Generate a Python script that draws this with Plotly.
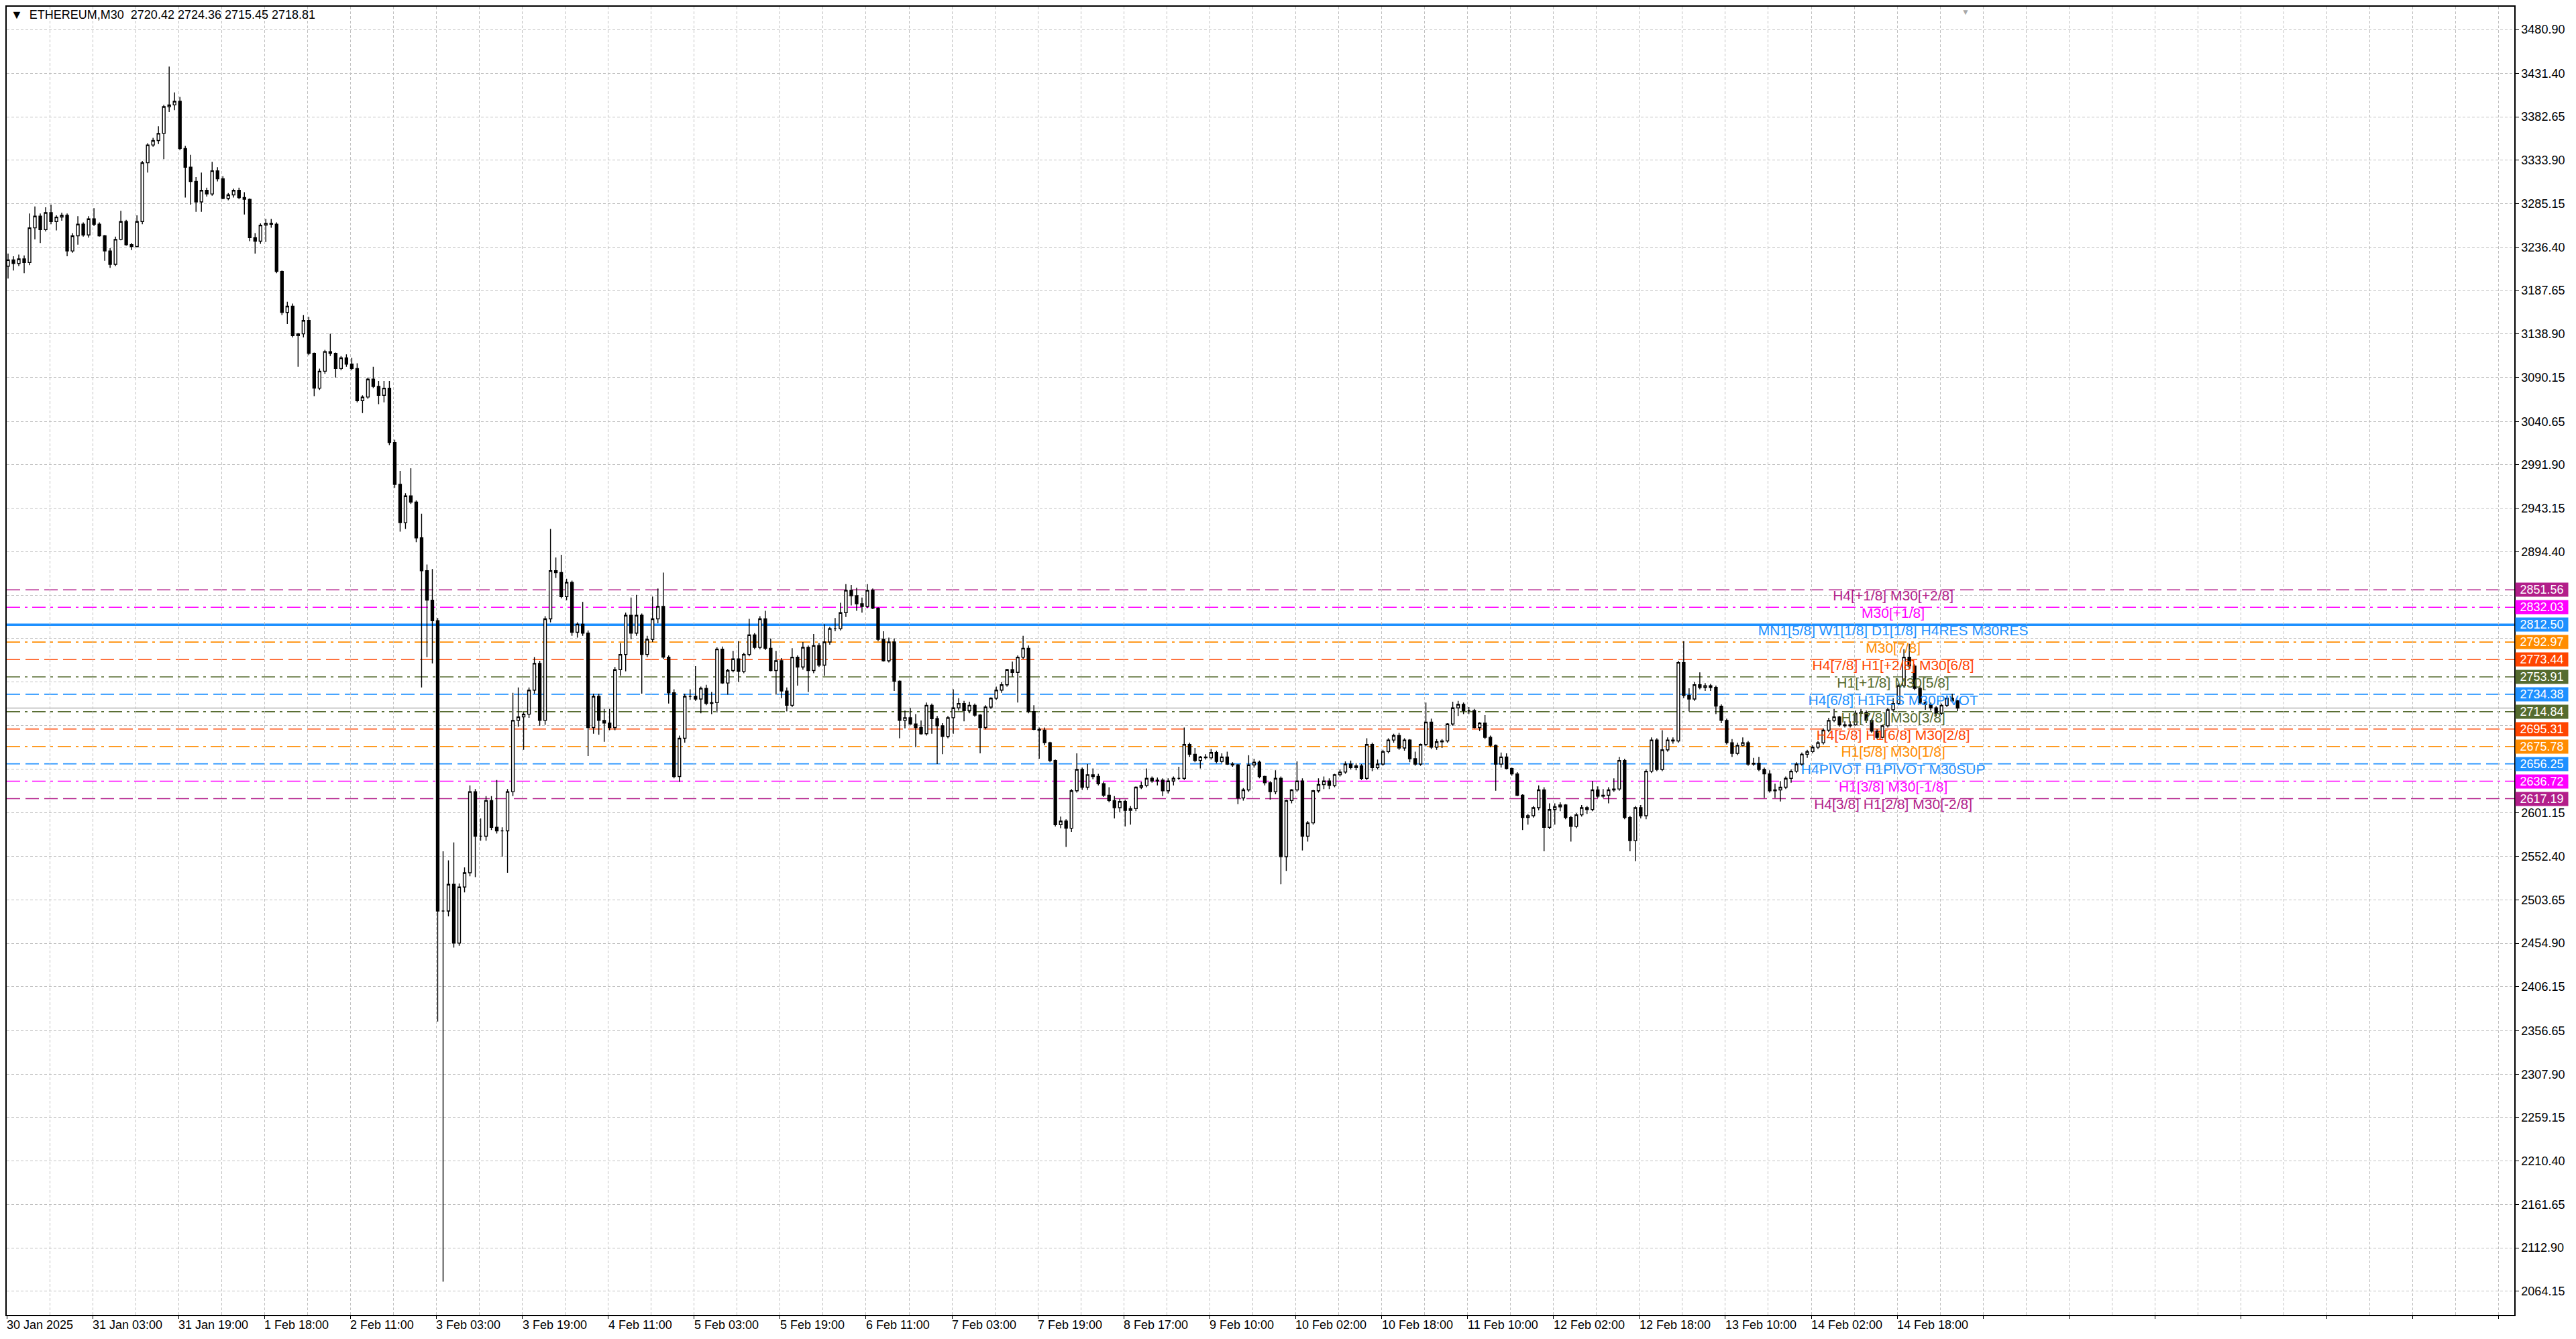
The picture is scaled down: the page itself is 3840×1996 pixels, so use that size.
import plotly.graph_objects as go

# ETHEREUM, M30 chart (drawn as 1-hour candles, two M30 bars per candle)
opens = [
    3215, 3222, 3218, 3223, 3219, 3258, 3271, 3256, 3275, 3265,
    3270, 3272, 3232, 3249, 3262, 3250, 3268, 3262, 3249, 3232,
    3217, 3245, 3265, 3239, 3237, 3265, 3331, 3351, 3356, 3364,
    3394, 3396, 3400, 3347, 3326, 3310, 3287, 3300, 3296, 3322,
    3313, 3291, 3295, 3300, 3292, 3290, 3247, 3243, 3261, 3263,
    3262, 3209, 3163, 3170, 3137, 3139, 3154, 3117, 3078, 3097,
    3119, 3117, 3100, 3112, 3105, 3100, 3064, 3068, 3088, 3080,
    3070, 3078, 3017, 2970, 2927, 2957, 2950, 2910, 2873, 2840,
    2817, 2491, 2491, 2521, 2455, 2518, 2534, 2625, 2575, 2575,
    2615, 2585, 2581, 2581, 2625, 2705, 2709, 2712, 2739, 2769,
    2705, 2819, 2873, 2871, 2844, 2860, 2804, 2813, 2803, 2697,
    2732, 2705, 2702, 2697, 2762, 2779, 2823, 2803, 2823, 2779,
    2796, 2819, 2833, 2776, 2736, 2642, 2685, 2732, 2732, 2729,
    2741, 2724, 2725, 2785, 2747, 2761, 2774, 2760, 2779, 2801,
    2787, 2819, 2786, 2761, 2772, 2738, 2722, 2776, 2765, 2787,
    2761, 2789, 2767, 2793, 2808, 2808, 2826, 2851, 2845, 2836,
    2833, 2851, 2831, 2796, 2772, 2793, 2749, 2705, 2708, 2701,
    2697, 2690, 2722, 2707, 2699, 2687, 2708, 2719, 2724, 2716,
    2722, 2711, 2697, 2720, 2730, 2739, 2745, 2762, 2759, 2776,
    2786, 2715, 2695, 2694, 2680, 2660, 2588, 2592, 2584, 2626,
    2650, 2630, 2644, 2642, 2634, 2621, 2615, 2607, 2614, 2604,
    2606, 2630, 2632, 2640, 2637, 2638, 2626, 2637, 2640, 2640,
    2678, 2667, 2660, 2664, 2663, 2669, 2659, 2664, 2656, 2655,
    2618, 2627, 2655, 2658, 2642, 2635, 2625, 2640, 2552, 2615,
    2627, 2637, 2575, 2590, 2626, 2633, 2637, 2632, 2644, 2647,
    2656, 2652, 2654, 2640, 2678, 2652, 2656, 2670, 2683, 2688,
    2674, 2683, 2662, 2656, 2678, 2703, 2675, 2681, 2682, 2701,
    2719, 2723, 2716, 2716, 2697, 2702, 2686, 2677, 2656, 2664,
    2651, 2645, 2621, 2596, 2598, 2607, 2627, 2585, 2605, 2608,
    2610, 2596, 2586, 2599, 2607, 2605, 2627, 2620, 2621, 2627,
    2628, 2660, 2596, 2570, 2607, 2598, 2648, 2683, 2650, 2672,
    2683, 2682, 2770, 2733, 2729, 2745, 2742, 2744, 2742, 2721,
    2705, 2680, 2668, 2677, 2680, 2656, 2657, 2650, 2645, 2626,
    2627, 2630, 2640, 2648, 2656, 2667, 2670, 2675, 2680, 2694,
    2705, 2709, 2700, 2699, 2700, 2713, 2714, 2705, 2693, 2686,
    2699, 2717, 2724, 2744, 2776, 2766, 2741, 2725, 2723, 2719,
    2713, 2722, 2730, 2727,
]
highs = [
    3229, 3226, 3228, 3227, 3274, 3282, 3274, 3281, 3284, 3272,
    3275, 3274, 3252, 3271, 3264, 3271, 3280, 3264, 3250, 3235,
    3248, 3277, 3267, 3241, 3272, 3333, 3353, 3359, 3372, 3396,
    3439, 3410, 3405, 3350, 3340, 3315, 3320, 3303, 3332, 3326,
    3316, 3297, 3302, 3303, 3298, 3291, 3252, 3263, 3268, 3268,
    3264, 3210, 3175, 3173, 3140, 3160, 3158, 3118, 3100, 3121,
    3139, 3118, 3114, 3116, 3112, 3106, 3070, 3090, 3102, 3086,
    3086, 3086, 3020, 2985, 2960, 2988, 2952, 2937, 2880, 2875,
    2820, 2558, 2548, 2568, 2522, 2540, 2632, 2628, 2595, 2620,
    2620, 2638, 2585, 2628, 2736, 2742, 2714, 2742, 2776, 2772,
    2822, 2920, 2888, 2891, 2864, 2862, 2815, 2838, 2806, 2735,
    2735, 2718, 2718, 2765, 2792, 2826, 2843, 2846, 2825, 2800,
    2844, 2853, 2871, 2778, 2740, 2688, 2735, 2740, 2766, 2743,
    2745, 2737, 2787, 2788, 2763, 2783, 2794, 2781, 2819, 2803,
    2822, 2828, 2797, 2783, 2775, 2742, 2786, 2778, 2793, 2789,
    2802, 2792, 2813, 2810, 2820, 2837, 2858, 2857, 2854, 2843,
    2858, 2853, 2832, 2805, 2798, 2797, 2750, 2716, 2719, 2712,
    2705, 2725, 2724, 2710, 2702, 2710, 2740, 2730, 2727, 2726,
    2724, 2712, 2722, 2731, 2743, 2748, 2763, 2771, 2778, 2800,
    2789, 2722, 2697, 2697, 2681, 2661, 2597, 2594, 2628, 2668,
    2652, 2656, 2651, 2645, 2636, 2630, 2620, 2617, 2616, 2609,
    2631, 2636, 2651, 2642, 2641, 2640, 2640, 2642, 2653, 2697,
    2680, 2674, 2665, 2667, 2673, 2671, 2668, 2670, 2658, 2656,
    2629, 2666, 2662, 2660, 2643, 2637, 2649, 2642, 2616, 2628,
    2659, 2640, 2592, 2627, 2640, 2642, 2640, 2645, 2650, 2659,
    2660, 2657, 2656, 2685, 2680, 2661, 2672, 2685, 2690, 2691,
    2685, 2684, 2670, 2679, 2725, 2707, 2684, 2684, 2702, 2726,
    2727, 2725, 2720, 2718, 2703, 2711, 2688, 2678, 2669, 2668,
    2652, 2647, 2622, 2600, 2609, 2632, 2630, 2612, 2612, 2613,
    2611, 2598, 2601, 2610, 2609, 2637, 2631, 2628, 2630, 2640,
    2664, 2662, 2598, 2609, 2610, 2650, 2686, 2685, 2694, 2686,
    2686, 2772, 2794, 2741, 2748, 2759, 2747, 2746, 2744, 2723,
    2707, 2684, 2680, 2686, 2682, 2663, 2664, 2652, 2649, 2634,
    2637, 2642, 2650, 2658, 2669, 2672, 2677, 2682, 2696, 2708,
    2718, 2710, 2704, 2704, 2716, 2718, 2716, 2707, 2695, 2700,
    2719, 2730, 2746, 2785, 2791, 2768, 2743, 2727, 2725, 2721,
    2724, 2733, 2735, 2728,
]
lows = [
    3201, 3210, 3215, 3207, 3216, 3245, 3241, 3254, 3262, 3255,
    3266, 3226, 3230, 3239, 3248, 3247, 3260, 3248, 3221, 3213,
    3215, 3244, 3238, 3233, 3236, 3262, 3320, 3349, 3352, 3335,
    3388, 3390, 3345, 3292, 3284, 3276, 3276, 3293, 3294, 3310,
    3290, 3289, 3292, 3290, 3273, 3243, 3229, 3240, 3242, 3258,
    3207, 3160, 3150, 3135, 3102, 3135, 3115, 3069, 3076, 3094,
    3114, 3090, 3098, 3102, 3098, 3062, 3050, 3066, 3078, 3060,
    3062, 3014, 2966, 2917, 2920, 2948, 2905, 2742, 2776, 2769,
    2367, 2075, 2485, 2450, 2452, 2512, 2530, 2529, 2570, 2570,
    2582, 2578, 2552, 2534, 2620, 2698, 2672, 2708, 2735, 2699,
    2700, 2815, 2865, 2842, 2840, 2800, 2798, 2800, 2665, 2690,
    2689, 2681, 2694, 2694, 2755, 2760, 2796, 2800, 2735, 2776,
    2793, 2814, 2774, 2724, 2640, 2636, 2680, 2728, 2727, 2713,
    2722, 2712, 2714, 2746, 2734, 2759, 2748, 2758, 2777, 2785,
    2785, 2784, 2760, 2734, 2730, 2715, 2720, 2744, 2762, 2737,
    2758, 2765, 2755, 2790, 2805, 2806, 2821, 2834, 2828, 2826,
    2831, 2830, 2794, 2771, 2770, 2738, 2685, 2696, 2700, 2675,
    2689, 2688, 2690, 2656, 2667, 2685, 2690, 2716, 2704, 2713,
    2709, 2668, 2695, 2718, 2728, 2736, 2743, 2754, 2725, 2774,
    2713, 2694, 2662, 2677, 2658, 2586, 2584, 2563, 2580, 2624,
    2627, 2627, 2639, 2632, 2619, 2613, 2595, 2602, 2586, 2588,
    2603, 2628, 2630, 2635, 2632, 2620, 2623, 2632, 2638, 2638,
    2664, 2658, 2651, 2661, 2661, 2657, 2657, 2655, 2653, 2611,
    2615, 2625, 2652, 2640, 2632, 2616, 2622, 2521, 2536, 2612,
    2625, 2559, 2569, 2588, 2624, 2628, 2628, 2630, 2642, 2645,
    2650, 2649, 2638, 2638, 2648, 2650, 2654, 2668, 2680, 2672,
    2671, 2658, 2654, 2654, 2676, 2673, 2672, 2674, 2680, 2699,
    2710, 2712, 2712, 2696, 2693, 2684, 2675, 2626, 2652, 2650,
    2643, 2620, 2582, 2588, 2596, 2604, 2558, 2583, 2588, 2603,
    2594, 2569, 2584, 2597, 2600, 2603, 2618, 2618, 2612, 2625,
    2626, 2594, 2558, 2547, 2595, 2594, 2646, 2648, 2648, 2670,
    2679, 2680, 2730, 2715, 2727, 2740, 2738, 2738, 2712, 2702,
    2678, 2664, 2666, 2676, 2654, 2654, 2648, 2618, 2624, 2618,
    2614, 2628, 2635, 2646, 2654, 2663, 2668, 2673, 2678, 2692,
    2703, 2698, 2697, 2697, 2699, 2709, 2702, 2691, 2684, 2685,
    2697, 2715, 2722, 2742, 2763, 2739, 2723, 2717, 2716, 2710,
    2711, 2720, 2725, 2715.45,
]
closes = [
    3222, 3218, 3223, 3219, 3258, 3271, 3256, 3275, 3265, 3270,
    3272, 3232, 3249, 3262, 3250, 3268, 3262, 3249, 3232, 3217,
    3245, 3265, 3239, 3237, 3265, 3331, 3351, 3356, 3364, 3394,
    3396, 3400, 3347, 3326, 3310, 3287, 3300, 3296, 3322, 3313,
    3291, 3295, 3300, 3292, 3290, 3247, 3243, 3261, 3263, 3262,
    3209, 3163, 3170, 3137, 3139, 3154, 3117, 3078, 3097, 3119,
    3117, 3100, 3112, 3105, 3100, 3064, 3068, 3088, 3080, 3070,
    3078, 3017, 2970, 2927, 2957, 2950, 2910, 2873, 2840, 2817,
    2491, 2491, 2521, 2455, 2518, 2534, 2625, 2575, 2575, 2615,
    2585, 2581, 2581, 2625, 2705, 2709, 2712, 2739, 2769, 2705,
    2819, 2873, 2871, 2844, 2860, 2804, 2813, 2803, 2697, 2732,
    2705, 2702, 2697, 2762, 2779, 2823, 2803, 2823, 2779, 2796,
    2819, 2833, 2776, 2736, 2642, 2685, 2732, 2732, 2729, 2741,
    2724, 2725, 2785, 2747, 2761, 2774, 2760, 2779, 2801, 2787,
    2819, 2786, 2761, 2772, 2738, 2722, 2776, 2765, 2787, 2761,
    2789, 2767, 2793, 2808, 2808, 2826, 2851, 2845, 2836, 2833,
    2851, 2831, 2796, 2772, 2793, 2749, 2705, 2708, 2701, 2697,
    2690, 2722, 2707, 2699, 2687, 2708, 2719, 2724, 2716, 2722,
    2711, 2697, 2720, 2730, 2739, 2745, 2762, 2759, 2776, 2786,
    2715, 2695, 2694, 2680, 2660, 2588, 2592, 2584, 2626, 2650,
    2630, 2644, 2642, 2634, 2621, 2615, 2607, 2614, 2604, 2606,
    2630, 2632, 2640, 2637, 2638, 2626, 2637, 2640, 2640, 2678,
    2667, 2660, 2664, 2663, 2669, 2659, 2664, 2656, 2655, 2618,
    2627, 2655, 2658, 2642, 2635, 2625, 2640, 2552, 2615, 2627,
    2637, 2575, 2590, 2626, 2633, 2637, 2632, 2644, 2647, 2656,
    2652, 2654, 2640, 2678, 2652, 2656, 2670, 2683, 2688, 2674,
    2683, 2662, 2656, 2678, 2703, 2675, 2681, 2682, 2701, 2719,
    2723, 2716, 2716, 2697, 2702, 2686, 2677, 2656, 2664, 2651,
    2645, 2621, 2596, 2598, 2607, 2627, 2585, 2605, 2608, 2610,
    2596, 2586, 2599, 2607, 2605, 2627, 2620, 2621, 2627, 2628,
    2660, 2596, 2570, 2607, 2598, 2648, 2683, 2650, 2672, 2683,
    2682, 2770, 2733, 2729, 2745, 2742, 2744, 2742, 2721, 2705,
    2680, 2668, 2677, 2680, 2656, 2657, 2650, 2645, 2626, 2627,
    2630, 2640, 2648, 2656, 2667, 2670, 2675, 2680, 2694, 2705,
    2709, 2700, 2699, 2700, 2713, 2714, 2705, 2693, 2686, 2699,
    2717, 2724, 2744, 2776, 2766, 2741, 2725, 2723, 2719, 2713,
    2722, 2730, 2727, 2718.81,
]
assert len(opens) == len(highs) == len(lows) == len(closes) == 364

# x labels: one every 32 M30 bars
time_labels = [
    "30 Jan 2025", "31 Jan 03:00", "31 Jan 19:00", "1 Feb 18:00", "2 Feb 11:00",
    "3 Feb 03:00", "3 Feb 19:00", "4 Feb 11:00", "5 Feb 03:00", "5 Feb 19:00",
    "6 Feb 11:00", "7 Feb 03:00", "7 Feb 19:00", "8 Feb 17:00", "9 Feb 10:00",
    "10 Feb 02:00", "10 Feb 18:00", "11 Feb 10:00", "12 Feb 02:00", "12 Feb 18:00",
    "13 Feb 10:00", "14 Feb 02:00", "14 Feb 18:00",
]
price_ticks = [
    3480.90, 3431.40, 3382.65, 3333.90, 3285.15, 3236.40, 3187.65, 3138.90,
    3090.15, 3040.65, 2991.90, 2943.15, 2894.40, 2845.65, 2796.90, 2748.15,
    2699.40, 2650.65, 2601.15, 2552.40, 2503.65, 2454.90, 2406.15, 2356.65,
    2307.90, 2259.15, 2210.40, 2161.65, 2112.90, 2064.15,
]
# tick labels hidden behind the coloured price boxes
covered_ticks = [2845.65, 2796.90, 2748.15, 2699.40, 2650.65]

# Murrey-style levels
level_prices = [2851.56, 2832.03, 2812.50, 2792.97, 2773.44, 2753.91, 2734.38,
                2714.84, 2695.31, 2675.78, 2656.25, 2636.72, 2617.19]
level_names = [
    "H4[+1/8] M30[+2/8]", "M30[+1/8]", "MN1[5/8] W1[1/8] D1[1/8] H4RES M30RES",
    "M30[7/8]", "H4[7/8] H1[+2/8] M30[6/8]", "H1[+1/8] M30[5/8]",
    "H4[6/8] H1RES M30PIVOT", "H1[7/8] M30[3/8]", "H4[5/8] H1[6/8] M30[2/8]",
    "H1[5/8] M30[1/8]", "H4PIVOT H1PIVOT M30SUP", "H1[3/8] M30[-1/8]",
    "H4[3/8] H1[2/8] M30[-2/8]",
]
level_colors = ["#B21E8A", "#FF00FF", "#1E90FF", "#FF8C00", "#FF4500", "#556B2F", "#1E90FF",
                "#556B2F", "#FF4500", "#FF8C00", "#1E90FF", "#FF00FF", "#B21E8A"]
level_dash = ["dash", "dashdot", "solid", "dashdot", "dash", "dashdot", "dash",
              "dashdot", "dash", "dashdot", "dash", "dashdot", "dash"]

last_price = 2718.81
title_text = "▼  ETHEREUM,M30\u00a0\u00a02720.42 2724.36 2715.45 2718.81"

FONT = "Liberation Sans, Arial, sans-serif"
GRID = "#C0C0C0"
DASHES = {"dash": "20px,8px", "dashdot": "20px,7px,4px,7px", "solid": "solid"}

candle_x = [2 * i + 0.5 for i in range(len(closes))]
label_x = 702.5

fig = go.Figure()

# level names sit under the candles
fig.add_trace(go.Scatter(
    x=[label_x] * len(level_prices), y=level_prices, mode="text",
    text=level_names, textposition="bottom center",
    textfont=dict(family=FONT, size=21, color=level_colors),
    hoverinfo="skip", showlegend=False,
))

fig.add_trace(go.Candlestick(
    x=candle_x, open=opens, high=highs, low=lows, close=closes,
    increasing=dict(fillcolor="white", line=dict(color="black", width=1.4)),
    decreasing=dict(fillcolor="black", line=dict(color="black", width=1.4)),
    whiskerwidth=0, showlegend=False, hoverinfo="skip",
))

shapes = []
for price, color, dash in zip(level_prices, level_colors, level_dash):
    shapes.append(dict(
        type="line", xref="paper", x0=0, x1=1, yref="y", y0=price, y1=price,
        line=dict(color=color, width=3.5 if dash == "solid" else 1.6, dash=DASHES[dash]),
        layer="between",
    ))
shapes.append(dict(
    type="line", xref="paper", x0=0, x1=1, yref="y", y0=last_price, y1=last_price,
    line=dict(color="#B4B4B4", width=1.5), layer="between",
))

annotations = []
for price, color in zip(level_prices, level_colors):
    annotations.append(dict(
        xref="paper", x=1, xanchor="left", xshift=1, yref="y", y=price, yanchor="middle",
        text=f"{price:.2f}", showarrow=False, bgcolor=color, width=78, height=20,
        borderpad=0, align="center", font=dict(family=FONT, size=18, color="white"),
    ))
for i, lab in enumerate(time_labels):
    annotations.append(dict(
        xref="x", x=i * 32, xanchor="left", xshift=-2, yref="paper", y=0, yanchor="top",
        yshift=-3, text=lab, showarrow=False, font=dict(family=FONT, size=18, color="black"),
    ))
annotations.append(dict(
    xref="paper", x=0, xanchor="left", xshift=4, yref="paper", y=1, yanchor="top",
    yshift=0, text=title_text, showarrow=False, font=dict(family=FONT, size=18, color="black"),
))
annotations.append(dict(
    xref="x", x=729.5, yref="paper", y=1, yanchor="top", yshift=1, text="▼", showarrow=False,
    font=dict(family=FONT, size=12, color="#A8A8A8"),
))

# the page body adds an 8px margin, so the figure is 8px smaller than the window
fig.update_layout(
    width=3832, height=1988,
    margin=dict(l=0, r=92, t=0, b=36),
    paper_bgcolor="white", plot_bgcolor="white",
    shapes=shapes, annotations=annotations,
    hovermode=False,
    xaxis=dict(
        range=[0, 933.8], rangeslider=dict(visible=False),
        tickmode="linear", tick0=0, dtick=32, showticklabels=False,
        ticks="outside", ticklen=4, tickcolor="black",
        showgrid=True, gridcolor=GRID, griddash="4px,3px", gridwidth=1,
        minor=dict(tick0=0, dtick=16, showgrid=True, gridcolor=GRID, griddash="4px,3px", ticks=""),
        showline=True, linecolor="black", linewidth=1.5, mirror=True, zeroline=False,
    ),
    yaxis=dict(
        range=[2037.7, 3506.2], side="right",
        tickmode="array", tickvals=price_ticks,
        ticktext=["" if v in covered_ticks else f"{v:.2f}" for v in price_ticks],
        tickfont=dict(family=FONT, size=18, color="black"),
        ticks="outside", ticklen=5, tickcolor="black",
        showgrid=True, gridcolor=GRID, griddash="4px,3px", gridwidth=1,
        showline=True, linecolor="black", linewidth=1.5, mirror=True, zeroline=False,
    ),
)

fig.write_html("out.html")
